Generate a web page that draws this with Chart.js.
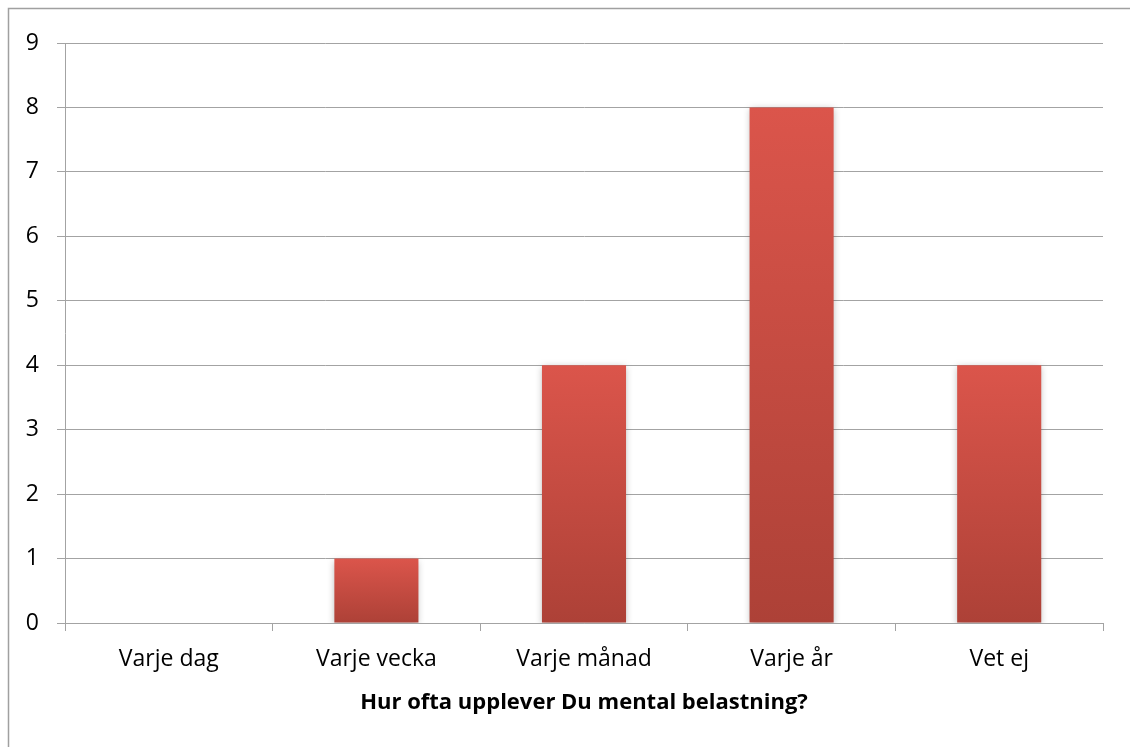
<!DOCTYPE html>
<html>
<head>
<meta charset="utf-8">
<script src="https://cdn.jsdelivr.net/npm/chart.js@4"></script>
<style>
  html, body { margin: 0; padding: 0; background: #ffffff; overflow: hidden; }
  #wrap { width: 1130px; height: 747px; position: relative; overflow: hidden; }
</style>
</head>
<body>
<div id="wrap"><canvas id="chart"></canvas></div>
<script>
// Survey answers: how often mental strain is experienced
const categories = ['Varje dag', 'Varje vecka', 'Varje månad', 'Varje år', 'Vet ej'];
const counts = [0, 1, 4, 8, 4];
const yTicks = [0, 1, 2, 3, 4, 5, 6, 7, 8, 9];
const axisTitle = 'Hur ofta upplever Du mental belastning?';

const FONT = "'Open Sans', 'DejaVu Sans', sans-serif";
const GRID = '#a3a3a3';

// Vertical red gradient spanning each bar from its top to the zero line
function barFill(ctx) {
  const chart = ctx.chart;
  const y = chart.scales.y;
  if (!chart.chartArea || !y || ctx.raw === undefined) return '#c84a40';
  const top = y.getPixelForValue(ctx.raw);
  const base = y.getPixelForValue(0);
  if (!isFinite(top) || !isFinite(base) || top === base) return '#c84a40';
  const g = chart.ctx.createLinearGradient(0, top, 0, base);
  g.addColorStop(0, '#db554b');
  g.addColorStop(1, '#ad4137');
  return g;
}

// Soft shadow under the bars
const barShadow = {
  id: 'barShadow',
  beforeDatasetsDraw(chart) {
    const c = chart.ctx;
    c.save();
    c.shadowColor = 'rgba(0,0,0,0.28)';
    c.shadowBlur = 7;
    c.shadowOffsetX = 0;
    c.shadowOffsetY = 2;
  },
  afterDatasetsDraw(chart) {
    chart.ctx.restore();
  }
};

// Frame around the chart object: left and top edges only are in view
const frame = {
  id: 'frame',
  beforeDraw(chart) {
    const c = chart.ctx;
    c.save();
    c.strokeStyle = '#a0a0a0';
    c.lineWidth = 1.5;
    c.beginPath();
    c.moveTo(8.5, chart.height);
    c.lineTo(8.5, 8.5);
    c.lineTo(chart.width, 8.5);
    c.stroke();
    c.restore();
  }
};

new Chart(document.getElementById('chart'), {
  type: 'bar',
  data: {
    labels: categories,
    datasets: [{
      data: counts,
      backgroundColor: barFill,
      borderWidth: 0,
      categoryPercentage: 1,
      barPercentage: 0.405
    }]
  },
  options: {
    responsive: true,
    maintainAspectRatio: false,
    animation: false,
    devicePixelRatio: 1,
    layout: { padding: { left: 0, top: 43, right: 27, bottom: 0 } },
    plugins: {
      legend: { display: false },
      tooltip: { enabled: false }
    },
    scales: {
      x: {
        grid: {
          offset: true,
          drawOnChartArea: false,
          drawTicks: true,
          tickLength: 8,
          color: GRID,
          lineWidth: 1
        },
        border: { display: true, color: GRID, width: 1 },
        ticks: {
          color: '#000000',
          padding: 15,
          font: { family: FONT, size: 23 }
        },
        title: {
          display: true,
          text: axisTitle,
          color: '#000000',
          font: { family: FONT, size: 22, weight: 'bold' },
          padding: { top: 0, bottom: 31 }
        },
        afterFit(scale) { scale.height = 124; }
      },
      y: {
        min: 0,
        max: 9,
        afterBuildTicks(scale) { scale.ticks = yTicks.map(v => ({ value: v })); },
        grid: {
          color: GRID,
          lineWidth: 1,
          drawTicks: true,
          tickLength: 8
        },
        border: { display: true, color: GRID, width: 1 },
        ticks: {
          color: '#000000',
          padding: 18,
          font: { family: FONT, size: 23 }
        },
        afterFit(scale) { scale.width = 65; }
      }
    }
  },
  plugins: [frame, barShadow]
});
</script>
</body>
</html>
